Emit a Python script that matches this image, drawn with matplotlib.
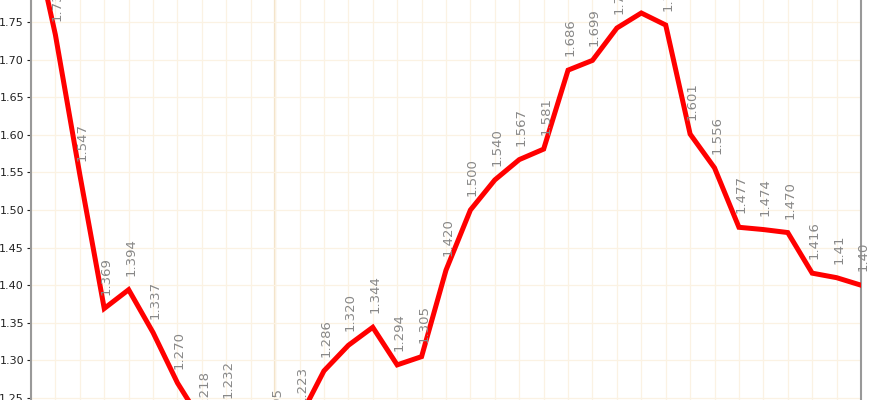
import matplotlib
matplotlib.use("Agg")
import matplotlib.pyplot as plt
from matplotlib.ticker import MultipleLocator, FormatStrFormatter

# values (index 0, 9, 10 are mostly outside the crop)
idx = list(range(35))
values = [1.880, 1.733, 1.547, 1.369, 1.394, 1.337, 1.270, 1.218, 1.232, 1.180,
          1.195, 1.223, 1.286, 1.320, 1.344, 1.294, 1.305, 1.420, 1.500, 1.540,
          1.567, 1.581, 1.686, 1.699, 1.742, 1.762, 1.746, 1.601, 1.556, 1.477,
          1.474, 1.470, 1.416, 1.410, 1.400]
labels = ["1.880", "1.733", "1.547", "1.369", "1.394", "1.337", "1.270", "1.218",
          "1.232", "1.180", "1.195", "1.223", "1.286", "1.320", "1.344", "1.294",
          "1.305", "1.420", "1.500", "1.540", "1.567", "1.581", "1.686", "1.699",
          "1.742", "1.762", "1.746", "1.601", "1.556", "1.477", "1.474", "1.470",
          "1.416", "1.41", "1.40"]
marker_idx = 10

fig = plt.figure(figsize=(8.7, 4), dpi=100)
ax = fig.add_axes([31/870, 0, 830/870, 1])

ax.plot(idx, values, color="red", lw=3.6, solid_joinstyle="miter", zorder=3)
for x, v, s in zip(idx, values, labels):
    ax.annotate(s, (x, v), xytext=(1.5, 10), textcoords="offset points",
                rotation=90, ha="center", va="bottom", fontsize=9.5,
                color="#888888", zorder=4, annotation_clip=False)

ax.axvline(marker_idx, color="#f2e2c8", lw=1.6, zorder=1)

ax.set_xlim(0, 34)
ax.set_ylim(1.2473, 1.7793)
ax.xaxis.set_major_locator(MultipleLocator(1))
ax.yaxis.set_major_locator(MultipleLocator(0.05))
ax.yaxis.set_major_formatter(FormatStrFormatter("%.2f"))
ax.grid(True, color="#fbf2e3", lw=0.9, zorder=0)
ax.tick_params(axis="x", length=0, labelbottom=False)
ax.tick_params(axis="y", length=3, labelsize=8, colors="#222222", pad=2)

for side in ["top", "bottom"]:
    ax.spines[side].set_visible(False)
for side in ["left", "right"]:
    ax.spines[side].set_color("#999999")
    ax.spines[side].set_linewidth(1.5)

fig.savefig("out.png", dpi=100)
